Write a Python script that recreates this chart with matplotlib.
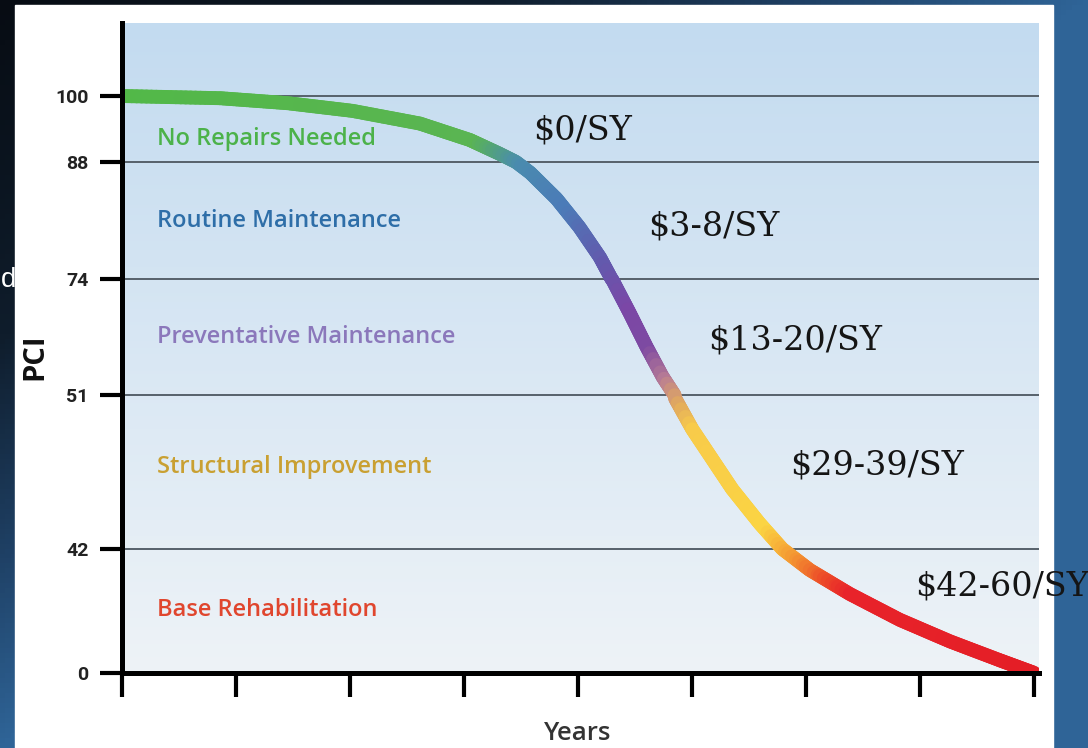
import numpy as np
import matplotlib.pyplot as plt
from matplotlib.collections import LineCollection
from matplotlib.colors import LinearSegmentedColormap, to_rgb
from matplotlib.patches import Rectangle

W, H = 1088, 748

# pavement condition curve
years = [0, 0.86, 1.45, 2.02, 2.61, 3.05, 3.31, 3.58, 3.81, 4.01, 4.19, 4.30,
         4.45, 4.60, 4.74, 4.85, 5.00, 5.18, 5.35, 5.59, 5.79, 6.03, 6.38,
         6.82, 7.26, 7.69, 8.0]
pci = [100, 99.6, 98.7, 97.3, 95.0, 92.0, 89.5, 86.7, 83.6, 80.2, 76.6, 73.8,
       67.3, 60.5, 54.6, 50.8, 49.0, 47.2, 45.5, 43.5, 42.0, 34.9, 26.8,
       18.0, 10.7, 4.4, 0]

pci_ticks = [0, 42, 51, 74, 88, 100]
grid_levels = [42, 51, 74, 88, 100]
year_ticks = [0, 1, 2, 3, 4, 5, 6, 7, 8]

bands = ['No Repairs Needed', 'Routine Maintenance', 'Preventative Maintenance',
         'Structural Improvement', 'Base Rehabilitation']
band_colors = ['#4cb24a', '#2e6ea8', '#8b78bb', '#c9a032', '#e0462e']
costs = ['$0/SY', '$3-8/SY', '$13-20/SY', '$29-39/SY', '$42-60/SY']

# layout (pixels from top-left)
band_xy = [(157, 139), (157, 221), (157, 337), (157, 467), (157, 610)]
cost_xy = [(533, 130), (648, 226), (708, 340), (790, 465), (915, 587)]

# the PCI axis is not linear: each band gets its own height
scale_pci = [0, 42, 51, 74, 88, 100, 114]
scale_pos = [0, 124, 278, 394, 511, 577, 654]
fwd = lambda v: np.interp(v, scale_pci, scale_pos)
inv = lambda p: np.interp(p, scale_pos, scale_pci)

fig = plt.figure(figsize=(W / 100, H / 100), dpi=100)

# slide background + white panel
bg = fig.add_axes([0, 0, 1, 1])
bg.set_xlim(0, W)
bg.set_ylim(0, H)
bg.axis('off')
gx, gy = np.meshgrid(np.linspace(0, 1, 200), np.linspace(0, 1, 150))
slide = LinearSegmentedColormap.from_list(
    'slide', [(0, '#070c13'), (0.45, '#0f1d2c'), (0.75, '#1f4166'), (1, '#2f6497')])
bg.imshow(slide(np.clip(gx + gy, 0, 1)), extent=(0, W, 0, H), origin='upper',
          aspect='auto', zorder=0)
bg.add_patch(Rectangle((15, 0), 1053 - 15, H - 5, color='white', zorder=1))
top_c, bot_c = np.array(to_rgb('#c3dbf0')), np.array(to_rgb('#eef3f7'))
tt = np.linspace(0, 1, 200)[:, None]
grad = (top_c * (1 - tt) + bot_c * tt)[:, None, :]
bg.imshow(grad, extent=(124, 1039, H - 673, H - 23), origin='upper',
          aspect='auto', zorder=2)

# main chart
ax = fig.add_axes([122 / W, (H - 673) / H, (1039 - 122) / W, 650 / H])
ax.set_facecolor('none')
ax.set_yscale('function', functions=(fwd, inv))
ax.set_xlim(0, 8.04)
ax.set_ylim(0, float(inv(650)))

for v in grid_levels:
    ax.axhline(v, color='#56616b', lw=1.4, zorder=1)

# gradient-coloured curve: split each segment so the colour can blend
xs, ys = [], []
for i in range(len(years) - 1):
    t = np.linspace(0, 1, 20, endpoint=False)
    xs.extend(years[i] + (years[i + 1] - years[i]) * t)
    ys.extend(pci[i] + (pci[i + 1] - pci[i]) * t)
xs.append(years[-1])
ys.append(pci[-1])
pts = np.column_stack([xs, ys]).reshape(-1, 1, 2)
segs = np.concatenate([pts[:-1], pts[1:]], axis=1)
curve_cmap = LinearSegmentedColormap.from_list('curve', [
    (0, '#52b848'), (3.1 / 8, '#5ab552'), (3.5 / 8, '#4a8cae'),
    (3.9 / 8, '#4b7bb8'), (4.25 / 8, '#6458ad'), (4.45 / 8, '#7b47a6'),
    (4.62 / 8, '#7d4aa2'), (4.78 / 8, '#b87d95'), (4.9 / 8, '#e0a860'),
    (5.02 / 8, '#f8cb4a'), (5.65 / 8, '#fbd443'), (5.95 / 8, '#f39030'),
    (6.2 / 8, '#ec4a28'), (6.4 / 8, '#e8232a'), (1, '#e41e26')])
mid = (np.array(xs[:-1]) + np.array(xs[1:])) / 2
lc = LineCollection(segs, colors=curve_cmap(mid / 8), linewidths=10,
                    capstyle='round', joinstyle='round', zorder=2)
ax.add_collection(lc)

for s in ['top', 'right']:
    ax.spines[s].set_visible(False)
for s in ['left', 'bottom']:
    ax.spines[s].set_linewidth(3.6)
    ax.spines[s].set_color('black')
    ax.spines[s].set_zorder(3)

ax.set_xticks(year_ticks)
ax.set_xticklabels([])
ax.tick_params(axis='x', direction='out', length=17, width=3, color='black')
ax.set_yticks(pci_ticks)
ax.set_yticklabels([str(v) for v in pci_ticks],
                   fontfamily=['Liberation Sans Narrow', 'Roboto'],
                   fontweight='bold', fontsize=14, color='#222222')
ax.yaxis.set_minor_locator(plt.NullLocator())
ax.xaxis.set_minor_locator(plt.NullLocator())
ax.tick_params(axis='y', direction='out', length=16, width=3, color='black', pad=8)

# band names and costs
for name, col, (x, y) in zip(bands, band_colors, band_xy):
    bg.text(x, H - y, name, color=col, fontsize=17, fontfamily='Open Sans',
            fontweight='semibold', ha='left', va='center', zorder=5)
for c, (x, y) in zip(costs, cost_xy):
    bg.text(x, H - y, c, color='#151515', fontsize=24, fontfamily='DejaVu Serif',
            ha='left', va='center', zorder=5)

bg.text(35, H - 357, 'PCI', rotation=90, fontsize=21, fontfamily='Open Sans',
        fontweight='bold', color='#111111', ha='center', va='center', zorder=5)
bg.text(578, H - 733, 'Years', fontsize=18.5, fontfamily='Open Sans',
        fontweight='semibold', color='#333333', ha='center', va='center', zorder=5)
bg.text(1, H - 280, 'd', fontsize=20, fontfamily='Liberation Sans',
        color='white', ha='left', va='center', zorder=5)

fig.savefig('out.png', dpi=100)
